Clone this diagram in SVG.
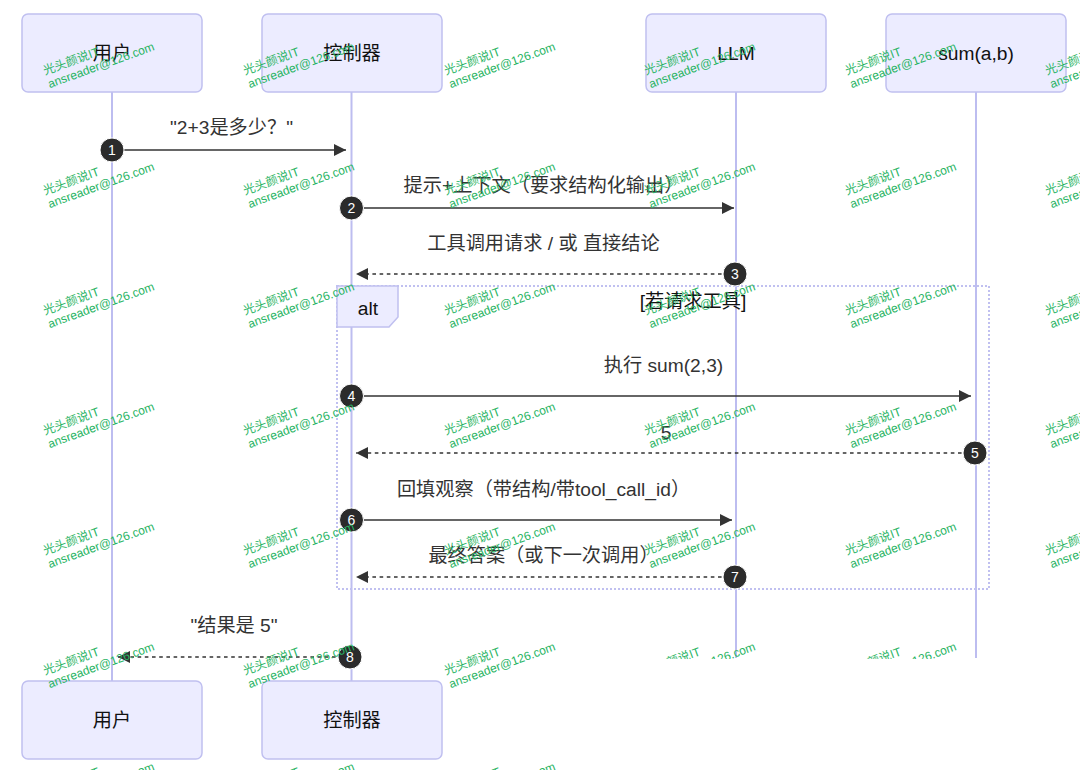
<svg xmlns="http://www.w3.org/2000/svg" xmlns:xlink="http://www.w3.org/1999/xlink" width="1080" height="770" viewBox="0 0 1080 770">
<style>
.actor{fill:#ECECFF;stroke:#C0C0F0;stroke-width:1.5}
.atext{font-family:"Liberation Sans","Noto Sans CJK SC",sans-serif;font-size:19.2px;fill:#111;text-anchor:middle;dominant-baseline:central}
.life{stroke:#BDBDF0;stroke-width:2;fill:none}
.msg{stroke:#333;stroke-width:1.6;fill:none}
.dash{stroke-dasharray:3.6 3.6}
.mtext{font-family:"Liberation Sans","Noto Sans CJK SC",sans-serif;font-size:19.2px;fill:#333;text-anchor:middle;dominant-baseline:central}
.num circle{fill:#2b2b2b;stroke:#fff;stroke-width:1}
.num text{font-family:"Liberation Sans",sans-serif;font-size:14px;fill:#fff;text-anchor:middle;dominant-baseline:central}
.altbox{fill:none;stroke:#C0C0F0;stroke-width:2;stroke-dasharray:2 2}
.altlab{fill:#ECECFF;stroke:#C0C0F0;stroke-width:1.5}
.wmt{font-family:"Liberation Sans","Noto Sans CJK SC",sans-serif;font-size:12px;fill:#28b463}
</style>
<defs>
<marker id="ah" viewBox="0 0 12 12" refX="12" refY="6" markerWidth="13" markerHeight="12" markerUnits="userSpaceOnUse" orient="auto">
<path d="M0,0 L12,6 L0,12 z" fill="#333"/>
</marker>
<g id="wmk"><text class="wmt" x="0" y="0">光头颜说IT</text><text class="wmt" x="0" y="14">ansreader@126.com</text></g>
<clipPath id="clipb"><rect x="0" y="0" width="1080" height="659"/></clipPath>
</defs>

<g id="lifelines">
<line class="life" x1="112" y1="92" x2="112" y2="681"/>
<line class="life" x1="351.5" y1="92" x2="351.5" y2="681"/>
<line class="life" x1="736" y1="92" x2="736" y2="658"/>
<line class="life" x1="976" y1="92" x2="976" y2="658"/>
</g>

<g id="actor-user-top"><rect class="actor" x="22" y="14" width="180" height="78" rx="6"/><text class="atext" x="112" y="53">用户</text></g>
<g id="actor-ctrl-top"><rect class="actor" x="262" y="14" width="180" height="78" rx="6"/><text class="atext" x="352" y="53">控制器</text></g>
<g id="actor-llm-top"><rect class="actor" x="646" y="14" width="180" height="78" rx="6"/><text class="atext" x="736" y="53">LLM</text></g>
<g id="actor-sum-top"><rect class="actor" x="886" y="14" width="180" height="78" rx="6"/><text class="atext" x="976" y="53">sum(a,b)</text></g>

<g id="alt-frame">
<rect class="altbox" x="337" y="286" width="652" height="303"/>
<polygon class="altlab" points="337,286 398,286 398,317 389,327 337,327"/>
<text class="mtext" x="368" y="308" style="fill:#111">alt</text>
<text class="mtext" x="693" y="301" style="fill:#111">[若请求工具]</text>
</g>

<g id="connectors">
<line class="msg" x1="112" y1="150" x2="346" y2="150" marker-end="url(#ah)"/>
<line class="msg" x1="351.5" y1="208" x2="734" y2="208" marker-end="url(#ah)"/>
<line class="msg dash" x1="736" y1="274" x2="356" y2="274" marker-end="url(#ah)"/>
<line class="msg" x1="351.5" y1="396" x2="971" y2="396" marker-end="url(#ah)"/>
<line class="msg dash" x1="976" y1="453" x2="356" y2="453" marker-end="url(#ah)"/>
<line class="msg" x1="351.5" y1="520" x2="732" y2="520" marker-end="url(#ah)"/>
<line class="msg dash" x1="736" y1="577" x2="356" y2="577" marker-end="url(#ah)"/>
<line class="msg dash" x1="350" y1="657" x2="118" y2="657" marker-end="url(#ah)"/>
</g>

<g id="labels">
<text class="mtext" x="231.5" y="127">"2+3是多少？"</text>
<text class="mtext" x="543.5" y="185">提示+上下文（要求结构化输出）</text>
<text class="mtext" x="543.5" y="243">工具调用请求 / 或 直接结论</text>
<text class="mtext" x="663.5" y="365">执行 sum(2,3)</text>
<text class="mtext" x="666" y="432">5</text>
<text class="mtext" x="543.5" y="489">回填观察（带结构/带tool_call_id）</text>
<text class="mtext" x="543.5" y="555">最终答案（或下一次调用）</text>
<text class="mtext" x="234" y="625">"结果是 5"</text>
</g>

<g id="numbers" class="num">
<circle cx="112" cy="150" r="12"/><text x="112" y="150">1</text>
<circle cx="351.5" cy="208" r="12"/><text x="351.5" y="208">2</text>
<circle cx="735" cy="274" r="12"/><text x="735" y="274">3</text>
<circle cx="351.5" cy="396" r="12"/><text x="351.5" y="396">4</text>
<circle cx="975" cy="453" r="12"/><text x="975" y="453">5</text>
<circle cx="351.5" cy="520" r="12"/><text x="351.5" y="520">6</text>
<circle cx="735" cy="577" r="12"/><text x="735" y="577">7</text>
<circle cx="350" cy="657" r="12"/><text x="350" y="657">8</text>
</g>

<g id="actor-user-bottom"><rect class="actor" x="22" y="681" width="180" height="78" rx="6"/><text class="atext" x="112" y="720">用户</text></g>
<g id="actor-ctrl-bottom"><rect class="actor" x="262" y="681" width="180" height="78" rx="6"/><text class="atext" x="352" y="720">控制器</text></g>

<g id="watermarks">
<use xlink:href="#wmk" transform="translate(45,75) rotate(-20)"/>
<use xlink:href="#wmk" transform="translate(245,75) rotate(-20)"/>
<use xlink:href="#wmk" transform="translate(446,75) rotate(-20)"/>
<use xlink:href="#wmk" transform="translate(646,75) rotate(-20)"/>
<use xlink:href="#wmk" transform="translate(847,75) rotate(-20)"/>
<use xlink:href="#wmk" transform="translate(1047,75) rotate(-20)"/>
<use xlink:href="#wmk" transform="translate(45,195) rotate(-20)"/>
<use xlink:href="#wmk" transform="translate(245,195) rotate(-20)"/>
<use xlink:href="#wmk" transform="translate(446,195) rotate(-20)"/>
<use xlink:href="#wmk" transform="translate(646,195) rotate(-20)"/>
<use xlink:href="#wmk" transform="translate(847,195) rotate(-20)"/>
<use xlink:href="#wmk" transform="translate(1047,195) rotate(-20)"/>
<use xlink:href="#wmk" transform="translate(45,315) rotate(-20)"/>
<use xlink:href="#wmk" transform="translate(245,315) rotate(-20)"/>
<use xlink:href="#wmk" transform="translate(446,315) rotate(-20)"/>
<use xlink:href="#wmk" transform="translate(646,315) rotate(-20)"/>
<use xlink:href="#wmk" transform="translate(847,315) rotate(-20)"/>
<use xlink:href="#wmk" transform="translate(1047,315) rotate(-20)"/>
<use xlink:href="#wmk" transform="translate(45,435) rotate(-20)"/>
<use xlink:href="#wmk" transform="translate(245,435) rotate(-20)"/>
<use xlink:href="#wmk" transform="translate(446,435) rotate(-20)"/>
<use xlink:href="#wmk" transform="translate(646,435) rotate(-20)"/>
<use xlink:href="#wmk" transform="translate(847,435) rotate(-20)"/>
<use xlink:href="#wmk" transform="translate(1047,435) rotate(-20)"/>
<use xlink:href="#wmk" transform="translate(45,555) rotate(-20)"/>
<use xlink:href="#wmk" transform="translate(245,555) rotate(-20)"/>
<use xlink:href="#wmk" transform="translate(446,555) rotate(-20)"/>
<use xlink:href="#wmk" transform="translate(646,555) rotate(-20)"/>
<use xlink:href="#wmk" transform="translate(847,555) rotate(-20)"/>
<use xlink:href="#wmk" transform="translate(1047,555) rotate(-20)"/>
<use xlink:href="#wmk" transform="translate(45,675) rotate(-20)"/>
<use xlink:href="#wmk" transform="translate(245,675) rotate(-20)"/>
<use xlink:href="#wmk" transform="translate(446,675) rotate(-20)"/>
<g clip-path="url(#clipb)">
<use xlink:href="#wmk" transform="translate(646,675) rotate(-20)"/>
<use xlink:href="#wmk" transform="translate(847,675) rotate(-20)"/>
</g>
<use xlink:href="#wmk" transform="translate(45,795) rotate(-20)"/>
<use xlink:href="#wmk" transform="translate(245,795) rotate(-20)"/>
<use xlink:href="#wmk" transform="translate(446,795) rotate(-20)"/>
</g>
</svg>
